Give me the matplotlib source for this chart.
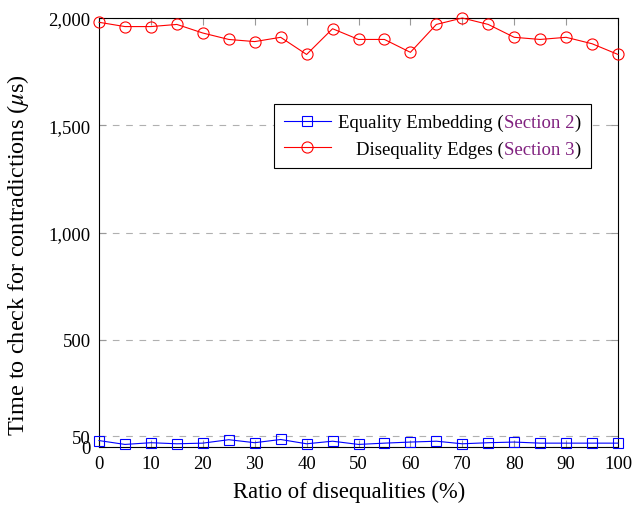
import matplotlib
matplotlib.use("Agg")
import matplotlib.pyplot as plt
from matplotlib.ticker import FuncFormatter

plt.rcParams['font.family'] = ['Liberation Serif', 'DejaVu Serif']
plt.rcParams['mathtext.fontset'] = 'stix'

# data
ratio = [0, 5, 10, 15, 20, 25, 30, 35, 40, 45, 50, 55, 60, 65, 70, 75, 80, 85, 90, 95, 100]
equality = [30, 12, 20, 15, 18, 34, 20, 35, 15, 27, 12, 18, 23, 27, 15, 20, 23, 18, 18, 18, 18]
disequality = [1980, 1960, 1960, 1970, 1930, 1900, 1890, 1910, 1830, 1950, 1900,
               1900, 1840, 1970, 2000, 1970, 1910, 1900, 1910, 1880, 1830]
yticks = [0, 50, 500, 1000, 1500, 2000]
xticks = list(range(0, 101, 10))
labels = [("Equality Embedding (", "Section 2", ")"),
          ("Disequality Edges (", "Section 3", ")")]

purple = '#80207f'
fs_leg = 13.5

fig = plt.figure(figsize=(6.44, 5.06), dpi=100)
ax = fig.add_axes([99/644, 1 - 448/506, 519/644, 429/506])

l1, = ax.plot(ratio, equality, color='blue', lw=0.8, marker='s', ms=7.5,
              mfc='none', mec='blue', mew=0.8, clip_on=False, zorder=3)
l2, = ax.plot(ratio, disequality, color='red', lw=0.8, marker='o', ms=8,
              mfc='none', mec='red', mew=0.8, clip_on=False, zorder=3)

ax.set_xlim(0, 100)
ax.set_ylim(0, 2000)
ax.set_xticks(xticks)
ax.set_yticks(yticks)
ax.yaxis.set_major_formatter(FuncFormatter(lambda v, p: '{:,}'.format(int(v))))
ax.grid(axis='y', color='#b0b0b0', linestyle=(0, (6, 6)), lw=0.8)
ax.set_axisbelow(True)
ax.tick_params(direction='in', top=True, right=True, color='#999999',
               length=5, labelsize=13.5)
ax.tick_params(axis='x', pad=6)
ax.tick_params(axis='y', pad=6)
for s in ax.spines.values():
    s.set_color('black')
    s.set_linewidth(0.8)

ax.set_xlabel('Ratio of disequalities (%)', fontsize=16.3)
ax.set_ylabel(r'Time to check for contradictions ($\mu$s)', fontsize=17.5)
ax.xaxis.set_label_coords(0.482, -0.079)
ax.yaxis.set_label_coords(-0.131, 0.45)

# legend sized by the full labels; the labels are then redrawn in pieces
full = [''.join(t) for t in labels]
leg = ax.legend([l1, l2], full, loc='upper right', bbox_to_anchor=(0.948, 0.80),
                borderaxespad=0, fancybox=False, edgecolor='black', framealpha=1,
                fontsize=fs_leg, handlelength=2.5, borderpad=0.55, labelspacing=0.5,
                handletextpad=0.4)
leg.get_frame().set_linewidth(0.8)
texts = leg.get_texts()

fig.canvas.draw()
r = fig.canvas.get_renderer()
boxes = [t.get_window_extent(r) for t in texts]
right_x = boxes[0].x1
for t in texts:
    t.set_visible(False)

for row, bb in zip(labels, boxes):
    prev = None
    for piece, col in zip(row[::-1], ['black', purple, 'black']):
        if prev is None:
            prev = fig.text(right_x, bb.y0, piece, transform=None,
                            ha='right', va='bottom', color=col, fontsize=fs_leg, zorder=10)
        else:
            prev = ax.annotate(piece, xy=(0, 0), xycoords=prev,
                               ha='right', va='bottom', color=col, fontsize=fs_leg,
                               annotation_clip=False, zorder=10)

fig.savefig('out.png', dpi=100)
